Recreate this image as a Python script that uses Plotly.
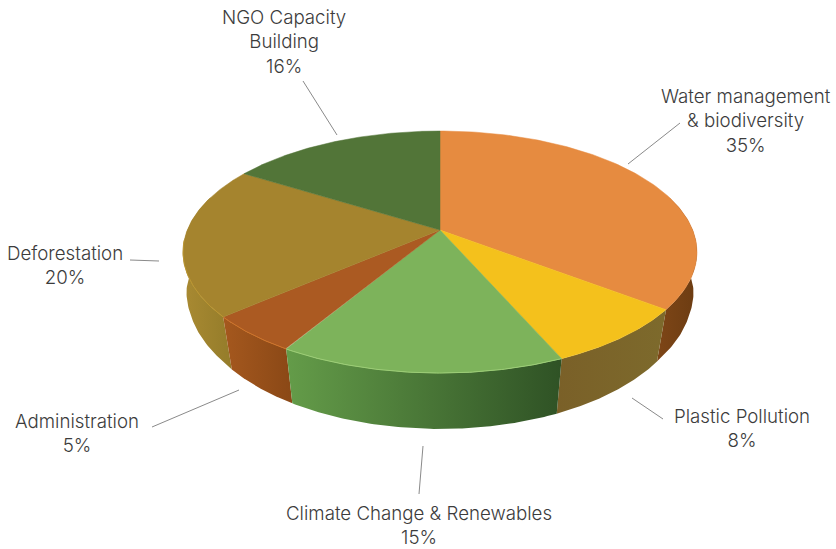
import numpy as np
import plotly.graph_objects as go

categories = ["Water management<br>& biodiversity", "Plastic Pollution", "Climate Change & Renewables",
              "Administration", "Deforestation", "NGO Capacity<br>Building"]
values = [35, 8, 15, 5, 20, 16]
top_colors = ["#e68b40", "#f4c11c", "#7db35b", "#ab5a22", "#a5842e", "#527538"]
rim_colors = ["#e68b40", "#f4c11c", "#9ccd76", "#cf7429", "#bb9630", "#527538"]
side_stops = [["#7e4617", "#6c3c12"], ["#7a6028", "#7d6a2c"], ["#649c49", "#2f5225"],
              ["#a5581e", "#8a4816"], ["#a98a32", "#947c2a"], ["#527538", "#527538"]]
label_x = [745.5, 742, 419, 77, 64.5, 283.5]
label_y = [120.5, 428, 525, 433, 265, 41.5]
leaders = [((628, 164), (680, 123)), ((632, 398), (663, 419)), ((423, 446), (419, 494)),
           ((239, 390), (152, 427)), ((159, 261), (130, 260)), ((337, 135), (303, 81))]

CX, CY, A, B, K = 440, 230, 252.7, 117, 0.182


def rim(theta_deg, lower=False):
    t = np.radians(theta_deg)
    u, v = np.sin(t), -np.cos(t)
    d = 1 - K * v
    if not lower:
        return CX + A * u / d, CY + B * v / d
    s = np.interp(v, [-0.3, 0.1, 0.3, 0.6], [1.0, 0.99, 0.975, 0.96])
    depth = np.interp(v, [0, 1], [47, 50.4])
    return CX + A * s * u / d, CY + (B * s * v + depth) / d


total = sum(values)
edges = np.concatenate([[0], np.cumsum(values) / total * 360])
fig = go.Figure()

# sides, outside-in
for i in [0, 4, 3, 1, 2]:
    lo, hi = max(edges[i], 73), min(edges[i + 1], 287)
    th = np.linspace(lo, hi, 80)
    xt, yt = rim(th)
    xb, yb = rim(th, True)
    xs = np.concatenate([xt, xb[::-1], xt[:1]])
    ys = np.concatenate([yt, yb[::-1], yt[:1]])
    fig.add_trace(go.Scatter(
        x=xs, y=ys, mode="lines", line=dict(width=0), fill="toself",
        fillgradient=dict(type="horizontal", colorscale=[[0, side_stops[i][0]], [1, side_stops[i][1]]]),
        hoverinfo="skip"))

# top faces
for i in range(len(values)):
    th = np.linspace(edges[i], edges[i + 1], 120)
    xt, yt = rim(th)
    fig.add_trace(go.Scatter(
        x=np.concatenate([[CX], xt, [CX]]), y=np.concatenate([[CY], yt, [CY]]),
        mode="lines", line=dict(width=0.5, color=top_colors[i]), fill="toself",
        fillcolor=top_colors[i], hoverinfo="skip"))
    if rim_colors[i] != top_colors[i]:
        lo, hi = max(edges[i], 75), min(edges[i + 1], 265)
        xr, yr = rim(np.linspace(lo, hi, 100))
        fig.add_trace(go.Scatter(x=xr, y=yr, mode="lines", line=dict(width=1, color=rim_colors[i]),
                                 hoverinfo="skip"))

# leader lines
for (p, q) in leaders:
    fig.add_trace(go.Scatter(x=[p[0], q[0]], y=[p[1], q[1]], mode="lines",
                             line=dict(width=1, color="#8a8a8a"), hoverinfo="skip"))

for c, v, x, y in zip(categories, values, label_x, label_y):
    fig.add_annotation(x=x, y=y, text=f"{c}<br>{v}%", showarrow=False, xanchor="center", yanchor="middle",
                       align="center", font=dict(family="Inter", weight=300, size=18.7, color="#3c3c3c"))

fig.update_layout(width=836, height=549, margin=dict(l=0, r=0, t=0, b=0), showlegend=False,
                  paper_bgcolor="white", plot_bgcolor="white",
                  xaxis=dict(range=[0, 836], visible=False, fixedrange=True),
                  yaxis=dict(range=[549, 0], visible=False, fixedrange=True))
fig.write_html("out.html", config=dict(displayModeBar=False),
               post_script="document.body.style.margin='0';document.documentElement.style.overflow='hidden';")
